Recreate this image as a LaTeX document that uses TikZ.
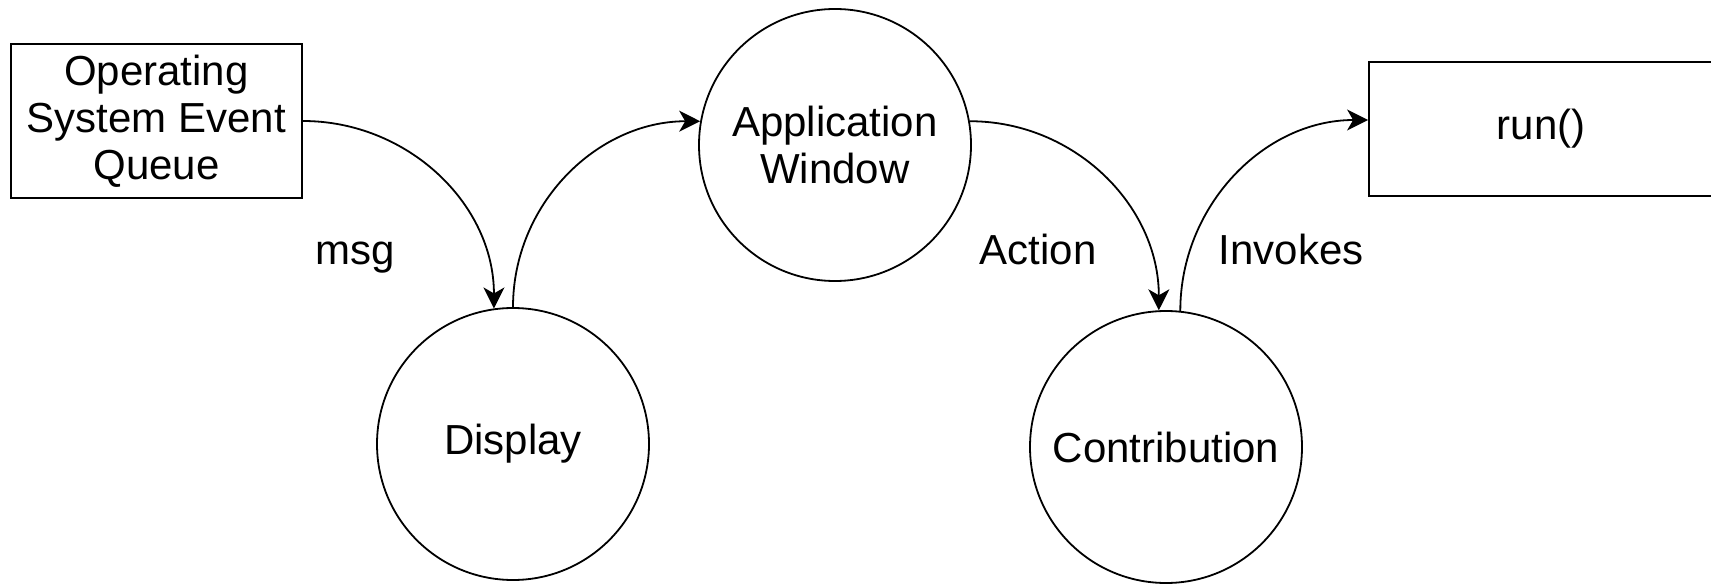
\documentclass[tikz,border=0pt]{standalone}
\usepackage{fontspec}
\setmainfont{Liberation Sans}
\usetikzlibrary{arrows.meta,calc}
\begin{document}
\begin{tikzpicture}[x=1pt,y=1pt,
  every node/.style={font=\fontsize{42}{47}\selectfont},
  box/.style={draw, line width=1.8pt, inner sep=0pt, align=center},
  bubble/.style={draw, circle, line width=1.8pt, minimum size=272pt, inner sep=0pt, align=center},
  flow/.style={line width=1.8pt, -{Stealth[length=21pt,width=21pt,inset=6pt]}},
  lbl/.style={anchor=base}]
\useasboundingbox (0,0) rectangle (1711,-585);
\node[box, minimum width=291pt, minimum height=154pt] (os) at (156.5,-121) {Operating\\System Event\\Queue};
\node[bubble] (disp) at (513,-444) {Display};
\node[bubble] (app) at (835,-145) {Application\\Window};
\node[bubble] (contr) at (1166,-447) {Contribution};
\node[box, minimum width=344pt, minimum height=134pt] (run) at (1541,-129) {run()};
\node[lbl] (msg) at (355,-265) {msg};
\node[lbl] (act) at (1038,-265) {Action};
\node[lbl] (inv) at (1291,-265) {Invokes};
\draw[flow] (os.east) to[out=0,in=90] (disp.98);
\draw[flow] (disp.90) to[out=90,in=180] (app.170);
\draw[flow] (app.10) to[out=0,in=90] (contr.93);
\coordinate (runin) at ($(run.west)+(0,9)$);
\draw[flow] (contr.84) to[out=90,in=180] (runin);
\end{tikzpicture}
\end{document}
